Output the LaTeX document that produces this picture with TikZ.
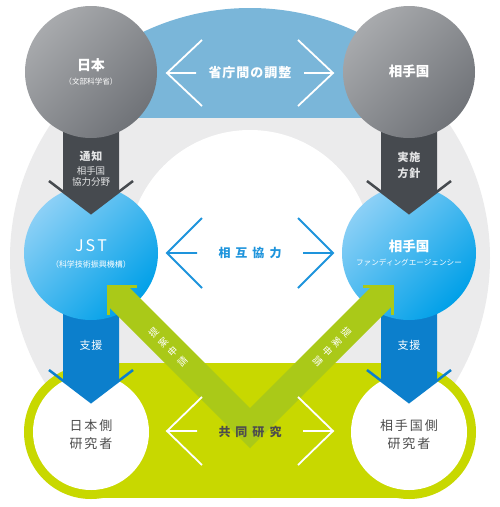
\documentclass[tikz,border=0pt]{standalone}
\usepackage{fontspec}
\setmainfont{Noto Sans CJK JP}
\definecolor{ringgray}{RGB}{235,235,236}
\definecolor{bandblue}{RGB}{122,182,217}
\definecolor{bandgreen}{RGB}{200,216,0}
\definecolor{arrowgreen}{RGB}{170,201,24}
\definecolor{darkarrow}{RGB}{70,74,79}
\definecolor{bluearrow}{RGB}{12,127,204}
\definecolor{midblue}{RGB}{30,148,220}
\definecolor{grayA}{RGB}{168,170,173}
\definecolor{grayB}{RGB}{112,115,120}
\definecolor{blueA}{RGB}{140,208,246}
\definecolor{blueB}{RGB}{0,160,232}
\definecolor{restext}{RGB}{77,77,77}
\definecolor{lbllight}{RGB}{228,229,230}
\begin{document}
\begin{tikzpicture}[x=1pt,y=-1pt,
  lbl/.style={inner sep=0pt, outer sep=0pt},
  chev/.style={line width=1.8pt, line cap=butt, line join=miter},
  wing/.style={line width=2.5pt, line cap=butt, line join=miter},
]
\useasboundingbox (0,0) rectangle (500,507);
\fill[white] (0,0) rectangle (500,507);
% ring
\fill[ringgray] (250,258) circle (240pt);
\fill[white] (250,252) circle (122pt);
% blue band
\begin{scope}
\clip (100,0) rectangle (400,117);
\fill[bandblue] (250,258) circle (250pt);
\end{scope}
% green band
\fill[bandgreen] (91,363) rectangle (409,498);
\fill[bandgreen] (91,432) circle (67pt);
\fill[bandgreen] (409,432) circle (67pt);
\fill[white] (91,432) circle (58pt);
\fill[white] (409,432) circle (58pt);
% blue arrows
\foreach \cx in {91,409} {
  \fill[bluearrow] ({\cx-28},290) -- ({\cx+28},290) -- ({\cx+28},380.7) -- (\cx,402) -- ({\cx-28},380.7) -- cycle;
  \draw[bluearrow, wing] ({\cx-42},370) -- (\cx,402) -- ({\cx+42},370);
}
% blue circles
\foreach \cx in {91,409} {
  \shade[top color=blueA, bottom color=blueB, shading angle=45] (\cx,253) circle (67pt);
}
% green arrows
\fill[arrowgreen] (108,286) -- (128,286) -- (250,408) -- (250,448) -- (108,306) -- cycle;
\draw[arrowgreen, line width=3pt, line join=miter] (137,286) -- (108,286) -- (108,315);
\fill[arrowgreen] (392,286) -- (372,286) -- (250,408) -- (250,448) -- (392,306) -- cycle;
\draw[arrowgreen, line width=3pt, line join=miter] (363,286) -- (392,286) -- (392,315);
\node[lbl, rotate=45, text=white, align=center, font=\fontsize{9.5}{13.5}\selectfont] (propL) at (168,347) {提\\案\\申\\請};
\node[lbl, rotate=-45, text=white, align=center, font=\fontsize{9.5}{13.5}\selectfont] (propR) at (332,347) {提\\案\\申\\請};
% dark arrows
\foreach \cx in {91,409} {
  \fill[darkarrow] ({\cx-28},120) -- ({\cx+28},120) -- ({\cx+28},191.7) -- (\cx,213) -- ({\cx-28},191.7) -- cycle;
  \draw[darkarrow, wing] ({\cx-42},181) -- (\cx,213) -- ({\cx+42},181);
}
% gray circles
\foreach \cx in {91,409} {
  \shade[top color=grayA, bottom color=grayB, shading angle=45] (\cx,72) circle (66pt);
}
% chevrons
\draw[chev, white] (202,40) -- (167,73) -- (202,106) (167,73) -- (196,73);
\draw[chev, white] (298,40) -- (333,73) -- (298,106) (304,73) -- (333,73);
\draw[chev, midblue] (202,218) -- (167,253) -- (202,288) (167,253) -- (197,253);
\draw[chev, midblue] (298,218) -- (333,253) -- (298,288) (303,253) -- (333,253);
\draw[chev, white] (202,397) -- (167,431) -- (202,465) (167,431) -- (197,431);
\draw[chev, white] (298,397) -- (333,431) -- (298,465) (303,431) -- (333,431);
% texts
\node[lbl, text=white, font=\bfseries\fontsize{14}{16}\selectfont] (jp) at (91,65) {日本};
\node[lbl, text=white, font=\fontsize{7.6}{9}\selectfont] (mext) at (91,82) {（文部科学省）};
\node[lbl, text=white, font=\bfseries\fontsize{13.5}{16}\selectfont] (pc) at (409,71) {相手国};
\node[lbl, text=white, font=\bfseries\fontsize{13}{15}\selectfont] (coord) at (250,73) {省\kern1pt 庁\kern1pt 間\kern1pt の\kern1pt 調\kern1pt 整};
\node[lbl, text=white, font=\fontsize{16}{18}\selectfont] (jst) at (91,246) {J\kern2pt S\kern2pt T};
\node[lbl, text=white, font=\fontsize{8}{9}\selectfont] (jstfull) at (91,264) {（科学技術振興機構）};
\node[lbl, text=white, font=\bfseries\fontsize{13.5}{16}\selectfont] (pcb) at (409,246) {相手国};
\node[lbl, text=white, font=\fontsize{7.6}{9}\selectfont] (fa) at (409,263) {ファンディングエージェンシー};
\node[lbl, text=midblue, font=\bfseries\fontsize{12}{14}\selectfont] (mutual) at (250,253) {相\kern5pt 互\kern5pt 協\kern5pt 力};
\node[lbl, text=restext, font=\bfseries\fontsize{12}{14}\selectfont] (joint) at (250,432) {共\kern5pt 同\kern5pt 研\kern5pt 究};
\node[lbl, text=lbllight, font=\bfseries\fontsize{11}{13}\selectfont] (notice) at (91,156) {通\kern1pt 知};
\node[lbl, text=lbllight, font=\fontsize{9.5}{11}\selectfont] (notice2) at (91,171) {相手国};
\node[lbl, text=lbllight, font=\fontsize{9.5}{11}\selectfont] (notice3) at (91,182) {協力分野};
\node[lbl, text=lbllight, font=\bfseries\fontsize{11}{13}\selectfont] (impl) at (409,157) {実\kern1pt 施};
\node[lbl, text=lbllight, font=\bfseries\fontsize{11}{13}\selectfont] (impl2) at (409,173) {方\kern1pt 針};
\node[lbl, text=white, font=\fontsize{11}{13}\selectfont] (supL) at (91,345) {支\kern1pt 援};
\node[lbl, text=white, font=\fontsize{11}{13}\selectfont] (supR) at (409,345) {支\kern1pt 援};
\node[lbl, text=restext, font=\fontsize{13}{15}\selectfont] (resL1) at (91,426) {日\kern2pt 本\kern2pt 側};
\node[lbl, text=restext, font=\fontsize{13}{15}\selectfont] (resL2) at (91,444) {研\kern2pt 究\kern2pt 者};
\node[lbl, text=restext, font=\fontsize{13}{15}\selectfont] (resR1) at (409,426) {相\kern2pt 手\kern2pt 国\kern2pt 側};
\node[lbl, text=restext, font=\fontsize{13}{15}\selectfont] (resR2) at (409,444) {研\kern2pt 究\kern2pt 者};
\end{tikzpicture}
\end{document}
